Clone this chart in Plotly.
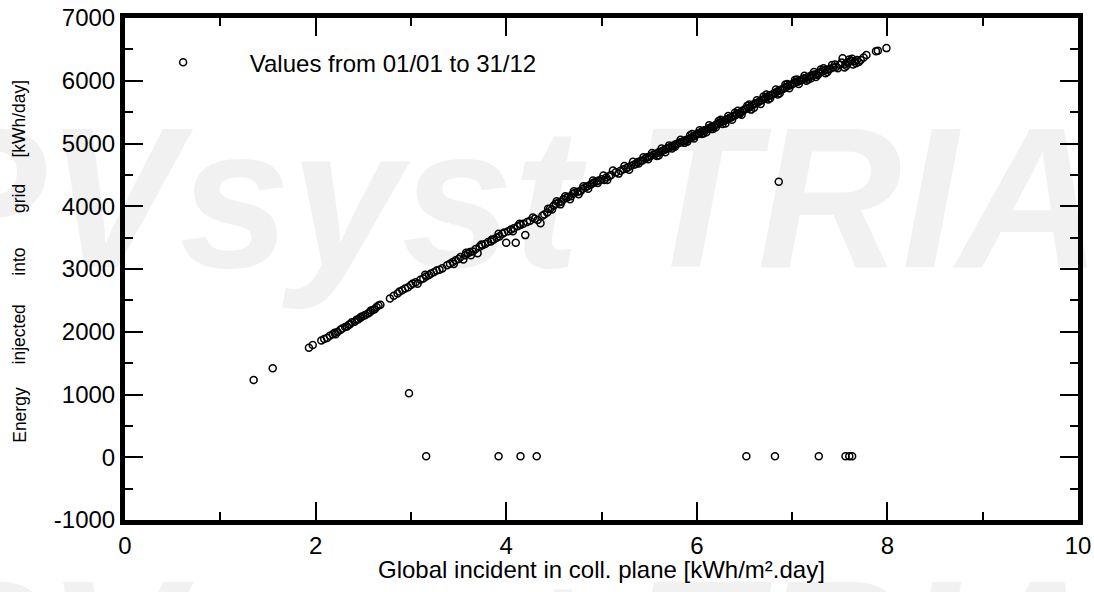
import plotly.graph_objects as go

# Daily values: global incident irradiation in collector plane [kWh/m².day]
# and energy injected into grid [kWh/day]
x_line = [
    1.93, 1.97, 2.06, 2.09, 2.12, 2.15, 2.18, 2.20, 2.23, 2.26, 2.28, 2.31, 2.33, 2.36,
    2.38, 2.41, 2.43, 2.45, 2.47, 2.50, 2.52, 2.55, 2.57, 2.60, 2.62, 2.64, 2.66, 2.68,
    2.78, 2.82, 2.86, 2.88, 2.91, 2.94, 2.97, 3.00, 3.02, 3.05, 3.07, 3.10, 3.13, 3.16,
    3.19, 3.21, 3.24, 3.27, 3.30,
    3.38, 3.41, 3.44, 3.47, 3.50, 3.52, 3.55, 3.57, 3.60, 3.62, 3.65, 3.68, 3.70, 3.72,
    3.75, 3.78, 3.81, 3.84, 3.87, 3.90, 3.93, 3.96, 3.98, 4.00, 4.02, 4.05, 4.08, 4.10,
    4.12, 4.15, 4.18, 4.20, 4.22, 4.25, 4.30, 4.33, 4.36, 4.40,
    4.43, 4.46, 4.50, 4.52, 4.55, 4.58, 4.60, 4.63, 4.65, 4.68, 4.70, 4.72, 4.75, 4.78,
    4.80, 4.83, 4.85, 4.88, 4.90, 4.92, 4.95, 4.97, 5.00, 5.03, 5.05, 5.08, 5.10,
    5.15, 5.20, 5.23, 5.26, 5.28, 5.31, 5.34, 5.36, 5.38, 5.41, 5.43, 5.46, 5.48, 5.50,
    5.52, 5.55, 5.57, 5.60, 5.62, 5.64, 5.66, 5.68, 5.70, 5.72, 5.74, 5.76, 5.78, 5.80,
    5.82, 5.84, 5.86, 5.88, 5.90, 5.92, 5.94, 5.96, 5.98, 6.00, 5.60, 5.74, 5.90, 5.95,
    6.02, 6.04, 6.06, 6.08, 6.10, 6.12, 6.14, 6.16, 6.18, 6.20, 6.22, 6.24, 6.26, 6.28,
    6.30, 6.32, 6.34, 6.36, 6.38, 6.40, 6.42, 6.44, 6.46, 6.48, 6.50, 6.52, 6.54, 6.56,
    6.58, 6.60, 6.62, 6.64, 6.66, 6.68, 6.70, 6.72, 6.74, 6.76, 6.78, 6.80, 6.82, 6.84,
    6.86, 6.88, 6.90, 6.92, 6.94, 6.96, 6.98, 7.00,
    6.10, 6.25, 6.30, 6.45, 6.55, 6.60, 6.70, 6.75, 6.85, 6.95, 6.20, 6.40, 6.05, 6.15,
    7.02, 7.04, 7.06, 7.08, 7.10, 7.12, 7.14, 7.16, 7.18, 7.20, 7.22, 7.25, 7.28, 7.30,
    7.32, 7.35, 7.38, 7.40, 7.43, 7.46, 7.50, 7.53, 7.56, 7.58, 7.60, 7.62, 7.64, 7.66,
    7.68, 7.70, 7.78, 7.88, 7.90, 7.99,
    7.05, 7.15, 7.25, 7.35, 7.45, 7.20, 7.30, 7.60, 7.55,
]
y_line = [
    1745, 1790, 1860, 1885, 1900, 1935, 1960, 1985, 1995, 2030, 2050, 2075, 2085, 2120,
    2150, 2160, 2190, 2200, 2225, 2250, 2265, 2290, 2310, 2345, 2360, 2395, 2420, 2430,
    2530, 2575, 2610, 2640, 2660, 2690, 2710, 2745, 2770, 2790, 2765, 2830, 2850, 2880,
    2905, 2930, 2950, 2975, 2990,
    3060, 3085, 3110, 3140, 3160, 3190, 3150, 3220, 3250, 3270, 3280, 3320, 3250, 3355,
    3380, 3400, 3430, 3440, 3470, 3500, 3520, 3560, 3580, 3420, 3600, 3630, 3650, 3420,
    3680, 3700, 3720, 3540, 3750, 3770, 3800, 3780, 3730, 3870,
    3900, 3960, 4010, 4040, 4060, 4070, 4110, 4130, 4150, 4160, 4200, 4210, 4230, 4240,
    4280, 4300, 4320, 4340, 4360, 4380, 4400, 4410, 4430, 4420, 4460, 4480, 4500,
    4540, 4565, 4590, 4605, 4620, 4645, 4660, 4675, 4705, 4720, 4730, 4760, 4780, 4790,
    4805, 4825, 4835, 4860, 4870, 4885, 4895, 4915, 4930, 4940, 4960, 4970, 4990, 5000,
    5015, 5025, 5040, 5050, 5065, 5075, 5090, 5110, 5120, 5150, 4810, 4920, 5030, 5150,
    5160, 5180, 5200, 5210, 5220, 5240, 5250, 5270, 5280, 5300, 5310, 5330, 5345, 5355,
    5375, 5385, 5405, 5415, 5435, 5445, 5465, 5480, 5500, 5520, 5540, 5555, 5565, 5580,
    5615, 5625, 5640, 5655, 5675, 5690, 5705, 5725, 5740, 5765, 5770, 5790, 5805, 5825,
    5840, 5855, 5865, 5885, 5900, 5920, 5930, 5945,
    5180, 5380, 5320, 5470, 5620, 5570, 5750, 5700, 5780, 5950, 5260, 5490, 5150, 5230,
    5960, 5980, 5985, 6000, 6015, 6035, 6045, 6055, 6065, 6085, 6095, 6105, 6125, 6140,
    6150, 6170, 6180, 6190, 6210, 6220, 6250, 6360, 6270, 6290, 6300, 6320, 6260, 6310,
    6330, 6300, 6410, 6470, 6480, 6520,
    6020, 6000, 6060, 6120, 6260, 6040, 6180, 6340, 6210,
]
# Further days scattered on both sides of the main band
x_band = [
    2.21, 2.35, 2.48, 2.58, 3.15, 3.33, 3.45, 3.58, 3.63, 3.74, 3.85, 3.92, 4.07, 4.14,
    4.28, 4.38, 4.44, 4.48, 4.53, 4.57, 4.62, 4.67, 4.71, 4.76, 4.81, 4.86, 4.91, 4.96,
    5.02, 5.06, 5.12, 5.18, 5.24, 5.29, 5.33, 5.39, 5.44, 5.49, 5.53, 5.58, 5.63, 5.67,
    5.71, 5.77, 5.83, 5.87, 5.93, 5.97, 6.03, 6.07, 6.13, 6.17, 6.23, 6.27, 6.33, 6.37,
    6.43, 6.47, 6.53, 6.57, 6.63, 6.67, 6.73, 6.77, 6.83, 6.87, 6.93, 6.97, 7.03, 7.07,
    7.13, 7.17, 7.23, 7.27, 7.33, 7.37, 7.42, 7.48, 7.52, 7.57, 7.63, 7.67, 7.72, 7.75,
]
y_band = [
    1960, 2110, 2240, 2340, 2910, 3010, 3080, 3260, 3220, 3390, 3470, 3560, 3600, 3720,
    3820, 3850, 3960, 3950, 4080, 4030, 4160, 4110, 4240, 4190, 4320, 4280, 4410, 4370,
    4490, 4420, 4570, 4520, 4640, 4580, 4710, 4680, 4780, 4750, 4850, 4800, 4920, 4860,
    4970, 4950, 5060, 5010, 5130, 5080, 5210, 5160, 5290, 5230, 5360, 5310, 5440, 5380,
    5520, 5460, 5600, 5540, 5690, 5630, 5780, 5720, 5860, 5800, 5940, 5880, 6010, 5950,
    6080, 6020, 6140, 6090, 6200, 6140, 6250, 6200, 6290, 6240, 6350, 6280, 6330, 6370,
]
# Outlier days (low production / grid outages)
x_out = [1.35, 1.55, 2.98, 6.86, 3.16, 3.92, 4.15, 4.32, 6.52, 6.82, 7.28, 7.56, 7.60, 7.63]
y_out = [1230, 1420, 1020, 4390, 15, 15, 15, 15, 15, 15, 15, 15, 15, 15]

x_all = x_line + x_band + x_out
y_all = y_line + y_band + y_out

x_tickvals = [0, 2, 4, 6, 8, 10]
x_ticktext = ["0", "2", "4", "6", "8", "10"]
y_tickvals = [-1000, 0, 1000, 2000, 3000, 4000, 5000, 6000, 7000]
y_ticktext = ["-1000", "0", "1000", "2000", "3000", "4000", "5000", "6000", "7000"]

legend_label = "Values from 01/01 to 31/12"
x_title = "Global incident in coll. plane [kWh/m².day]"
y_title_words = ["Energy", "injected", "into", "grid", "[kWh/day]"]
y_title_pos = [0.21, 0.37, 0.515, 0.64, 0.80]   # paper y of each word
watermark = "PVsyst TRIAL"

FONT = "Liberation Sans, Arial, Helvetica, sans-serif"
WM_COLOR = "rgb(241,241,241)"
WM_SIZE = 200

fig = go.Figure()

# watermark inside the plot (first trace, so it sits behind the data)
fig.add_trace(go.Scatter(
    x=[4.65], y=[3830], mode="text", text=[watermark],
    textposition="middle center",
    textfont=dict(family=FONT, size=WM_SIZE, color=WM_COLOR,
                  weight="bold", style="italic"),
    cliponaxis=False, showlegend=False, hoverinfo="skip",
))

fig.add_trace(go.Scatter(
    x=x_all, y=y_all, mode="markers",
    name="\u00a0" * 7 + legend_label,
    marker=dict(symbol="circle-open", size=7, color="black",
                line=dict(width=1.5, color="black")),
    cliponaxis=False,
))

axis_common = dict(
    showline=True, linewidth=5, linecolor="black", mirror="allticks",
    ticks="inside", ticklen=18, tickwidth=1.5, tickcolor="black",
    showgrid=False, zeroline=False, automargin=False,
    tickfont=dict(family=FONT, size=24, color="black"),
)

fig.update_xaxes(
    range=[0, 10], tickmode="array", tickvals=x_tickvals, ticktext=x_ticktext,
    minor=dict(dtick=1, tick0=0, ticks="inside", ticklen=8, tickwidth=1.5, tickcolor="black"),
    **axis_common,
)
fig.update_yaxes(
    range=[-1000, 7000], tickmode="array", tickvals=y_tickvals, ticktext=y_ticktext,
    minor=dict(dtick=500, tick0=0, ticks="inside", ticklen=8, tickwidth=1.5, tickcolor="black"),
    **axis_common,
)

# second (bottom) watermark, drawn before the axis title so the title stays on top
fig.add_annotation(
    text=watermark, xref="paper", yref="paper", x=0.465, y=-0.260,
    xanchor="center", yanchor="middle", showarrow=False,
    font=dict(family=FONT, size=WM_SIZE, color=WM_COLOR, weight="bold", style="italic"),
)

fig.add_annotation(
    text=x_title, xref="paper", yref="paper", x=0.5, y=-0.0996,
    xanchor="center", yanchor="middle", showarrow=False,
    font=dict(family=FONT, size=24, color="black"),
)

for word, py in zip(y_title_words, y_title_pos):
    fig.add_annotation(
        text=word, xref="paper", yref="paper", x=-0.111, y=py,
        textangle=-90, showarrow=False, xanchor="center", yanchor="middle",
        font=dict(family=FONT, size=17.5, color="black"),
    )

fig.update_layout(
    width=1094, height=592,
    margin=dict(l=125, r=16, t=18, b=72),
    paper_bgcolor="white", plot_bgcolor="white",
    font=dict(family=FONT, color="black"),
    showlegend=True,
    legend=dict(x=0.04, y=0.956, xanchor="left", yanchor="top",
                bgcolor="rgba(0,0,0,0)", borderwidth=0,
                font=dict(family=FONT, size=24, color="black")),
)

fig.write_html("out.html")
